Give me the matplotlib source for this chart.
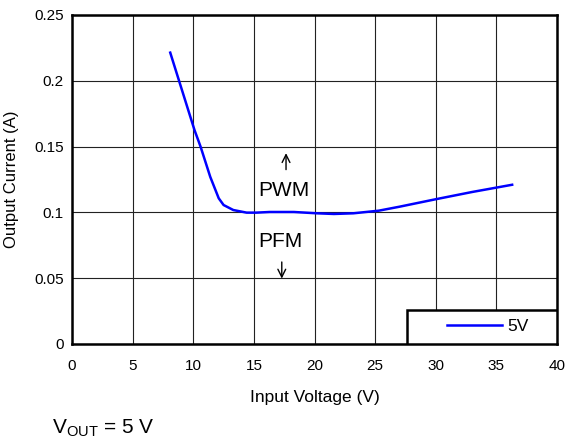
import matplotlib
matplotlib.use("Agg")
import matplotlib.pyplot as plt
from matplotlib.patches import Rectangle

plt.rcParams['font.family'] = ['Liberation Sans', 'DejaVu Sans']

vin = [8.1, 10.1, 10.6, 11.4, 12.1, 12.5, 13.3, 14.4, 15.2, 16.3, 18.3, 20.2, 21.6, 23.2, 25.3, 27.0, 30, 33, 36.3]
iout = [0.2214, 0.1626, 0.150, 0.127, 0.1107, 0.1056, 0.1018, 0.0998, 0.0998, 0.1003, 0.1003, 0.0993, 0.0988, 0.0993, 0.1013, 0.1043, 0.110, 0.1155, 0.121]

fig = plt.figure(figsize=(5.73, 4.41), dpi=100)
ax = fig.add_axes([0.1257, 0.22, 0.8464, 0.746])

ax.plot(vin, iout, color='#0000ff', lw=1.8, label='5V', solid_joinstyle='round')

ax.set_xlim(0, 40)
ax.set_ylim(0, 0.25)
ax.set_xticks(range(0, 41, 5))
ax.set_yticks([0, 0.05, 0.1, 0.15, 0.2, 0.25])
ax.set_yticklabels(['0', '0.05', '0.1', '0.15', '0.2', '0.25'])
ax.grid(True, color='#222222', lw=0.8)
ax.tick_params(labelsize=11, length=0)
ax.tick_params(axis='x', pad=11)
ax.tick_params(axis='y', pad=6)
for s in ax.spines.values():
    s.set_linewidth(1.8)
ax.set_xlabel('Input Voltage (V)', fontsize=12.5, labelpad=12)
ax.set_ylabel('Output Current (A)', fontsize=12, labelpad=11)

arrow = dict(arrowstyle='->', lw=1.0, color='black', mutation_scale=14,
             shrinkA=0, shrinkB=0)
ax.annotate('', xy=(17.65, 0.145), xytext=(17.65, 0.1325), arrowprops=arrow)
ax.text(17.45, 0.1163, 'PWM', ha='center', va='center', fontsize=15)
ax.text(17.15, 0.0775, 'PFM', ha='center', va='center', fontsize=15)
ax.annotate('', xy=(17.3, 0.0497), xytext=(17.3, 0.0623), arrowprops=arrow)

# legend box in the lower right corner
box = Rectangle((0.691, 0), 0.309, 0.103, transform=ax.transAxes,
                facecolor='white', edgecolor='black', lw=1.8, zorder=4)
ax.add_patch(box)
leg = ax.legend(loc='center', bbox_to_anchor=(0.857, 0.052), fontsize=12.5,
                frameon=False, borderpad=0, handlelength=3.2, handletextpad=0.3)
leg.set_zorder(5)

fig.text(0.091, 0.018, r'V$_{\mathregular{OUT}}$ = 5 V', fontsize=15)

fig.savefig('out.png', dpi=100)
